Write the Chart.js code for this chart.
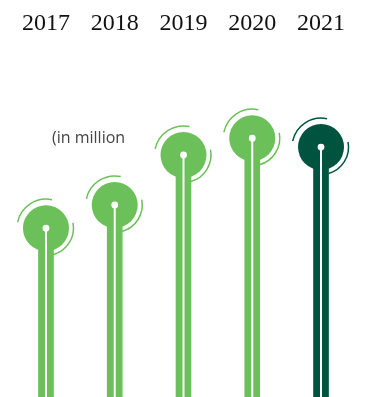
<!DOCTYPE html>
<html>
<head>
<meta charset="UTF-8">
<title>Stems</title>
<script src="https://cdn.jsdelivr.net/npm/chart.js@4.4.1/dist/chart.umd.min.js"></script>
<style>
    html, body { margin: 0; padding: 0; background: #fff; }
    #wrap { width: 365px; height: 397px; position: relative; }
</style>
</head>
<body>
<div id="wrap"><canvas id="stems"></canvas></div>
<script>
    var years = ['2017', '2018', '2019', '2020', '2021'];
    var values = [47.3, 53.8, 67.8, 72.5, 70.0];
    var colours = ['#6cc05a', '#6cc05a', '#6cc05a', '#6cc05a', '#00543f'];
    var unitNote = '(in million';

    // white centre line, white dot and the two thin arcs round each head
    var heads = {
        id: 'heads',
        afterDatasetsDraw: function (chart) {
            var ctx = chart.ctx;
            var bottom = chart.chartArea.bottom;
            var pts = chart.getDatasetMeta(1).data;
            ctx.save();
            pts.forEach(function (p, i) {
                ctx.strokeStyle = '#fff';
                ctx.lineWidth = 2;
                ctx.beginPath();
                ctx.moveTo(p.x, p.y);
                ctx.lineTo(p.x, bottom);
                ctx.stroke();

                ctx.fillStyle = '#fff';
                ctx.beginPath();
                ctx.arc(p.x, p.y, 3.4, 0, Math.PI * 2);
                ctx.fill();

                ctx.strokeStyle = colours[i];
                ctx.lineWidth = 1.5;
                ctx.beginPath();
                ctx.arc(p.x, p.y, 29, 192 * Math.PI / 180, 282 * Math.PI / 180);
                ctx.stroke();
                ctx.beginPath();
                ctx.arc(p.x, p.y, 27.5, -11 * Math.PI / 180, 75 * Math.PI / 180);
                ctx.stroke();
            });
            ctx.fillStyle = '#444';
            ctx.font = '16px "Open Sans"';
            ctx.textBaseline = 'alphabetic';
            ctx.fillText(unitNote, 52, 143);
            ctx.restore();
        }
    };

    new Chart(document.getElementById('stems'), {
        type: 'bar',
        data: {
            labels: years,
            datasets: [{
                data: values,
                backgroundColor: colours,
                barThickness: 15,
                borderWidth: 0
            }, {
                type: 'line',
                data: values,
                showLine: false,
                pointRadius: 23,
                pointHoverRadius: 23,
                pointBackgroundColor: colours,
                pointBorderWidth: 0,
                clip: false
            }]
        },
        options: {
            responsive: true,
            maintainAspectRatio: false,
            animation: false,
            layout: { autoPadding: false, padding: { left: 11.6, right: 9.6, top: 0, bottom: 0 } },
            plugins: { legend: { display: false }, tooltip: { enabled: false } },
            scales: {
                x: {
                    position: 'top',
                    grid: { display: false, drawTicks: false },
                    border: { display: false },
                    ticks: { color: '#111', padding: 2, font: { family: 'Liberation Serif', size: 24 } },
                    afterFit: function (s) { s.height = 40; }
                },
                y: { display: false, min: 0, max: 100 }
            }
        },
        plugins: [heads]
    });
</script>
</body>
</html>
